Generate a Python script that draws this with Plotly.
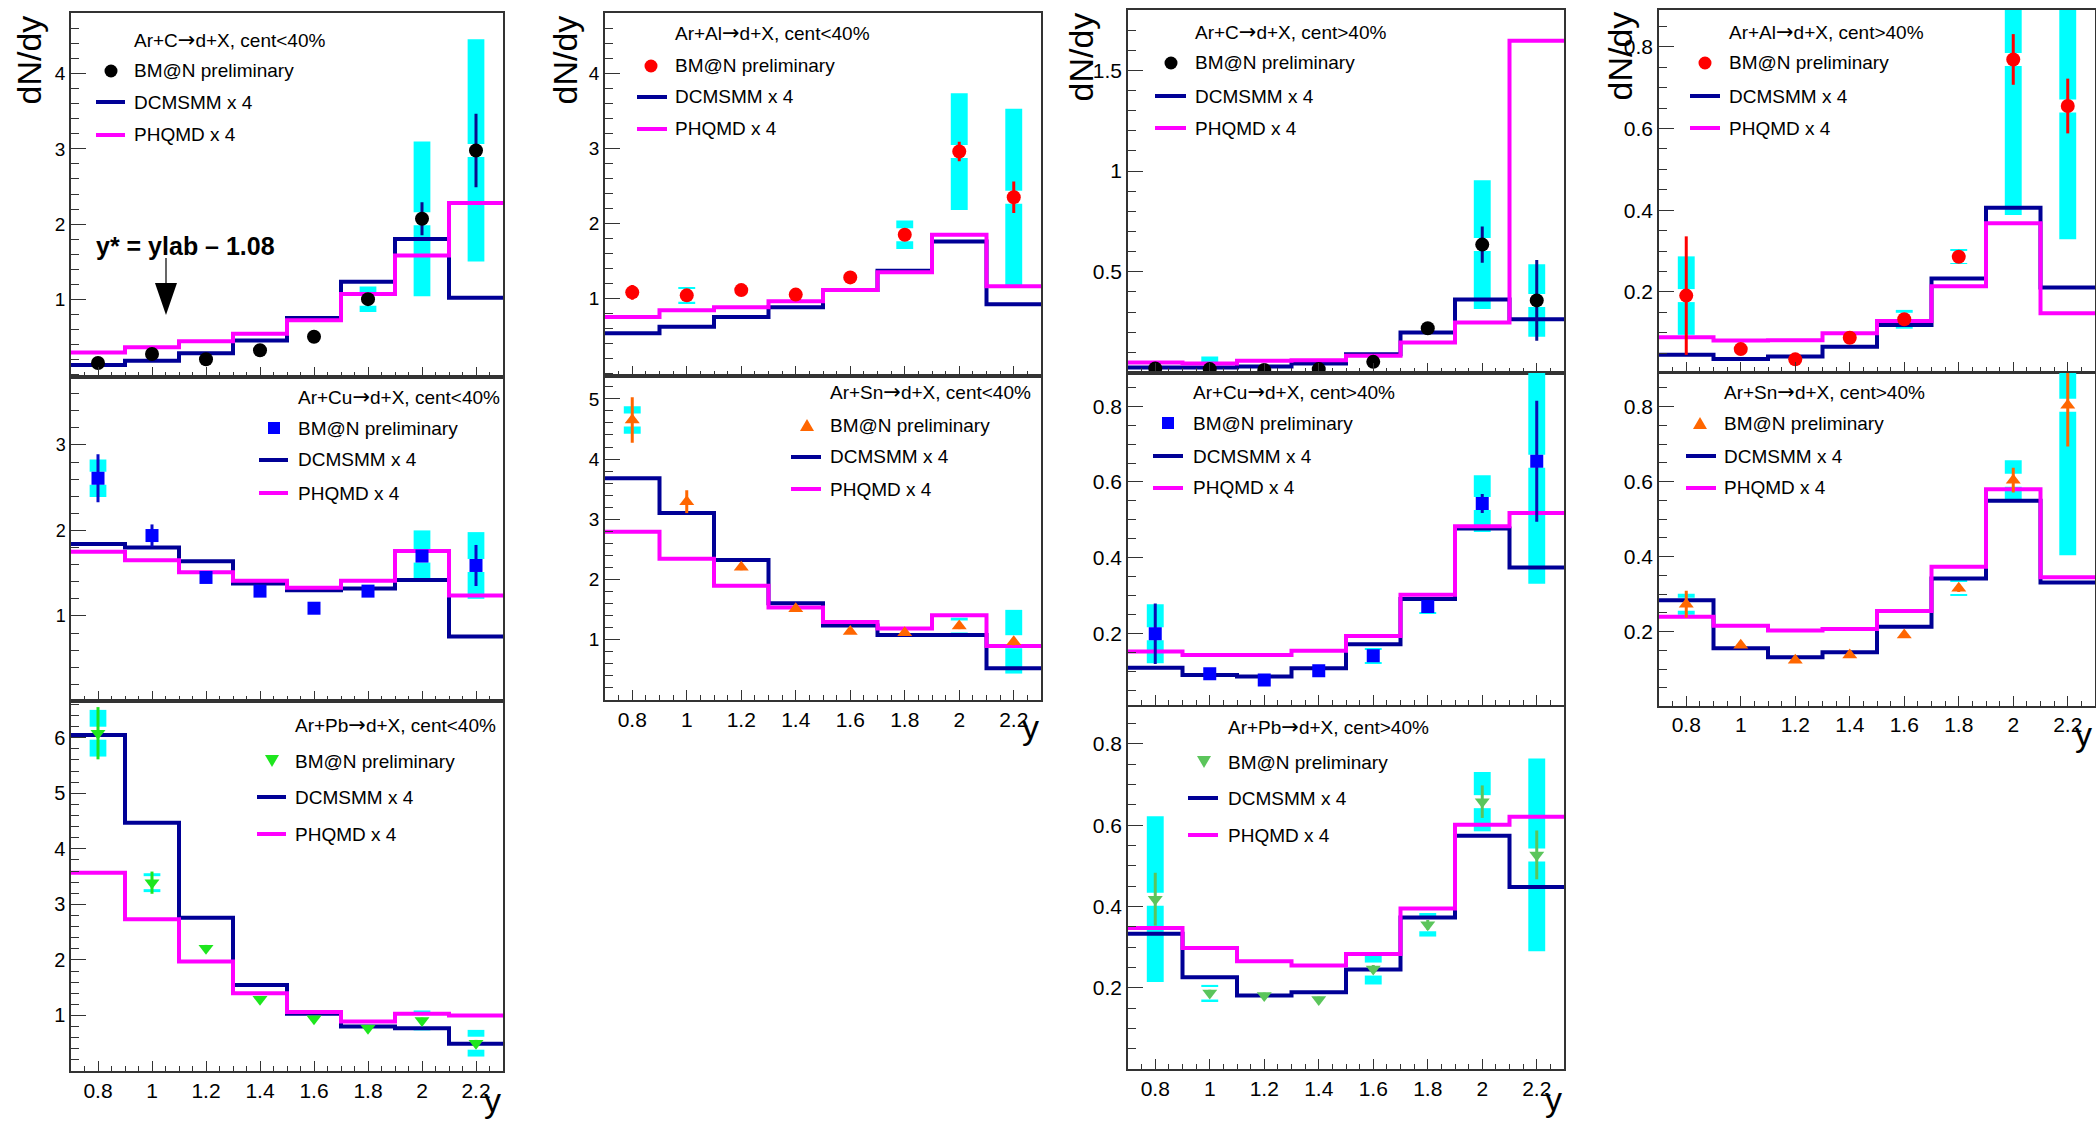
import plotly.graph_objects as go

W, H = 2096, 1121

# ---------------- data ----------------
rapidity = [0.8, 1.0, 1.2, 1.4, 1.6, 1.8, 2.0, 2.2]
x_tick_labels = ["0.8", "1", "1.2", "1.4", "1.6", "1.8", "2", "2.2"]

# Ar+C, cent<40%
arc_lt40_data = [0.15, 0.27, 0.20, 0.32, 0.50, 1.00, 2.07, 2.98]
arc_lt40_stat = [0.02, 0.03, 0.02, 0.03, 0.04, 0.06, 0.22, 0.49]
arc_lt40_sys = [0.02, 0.03, 0.03, 0.04, 0.05, 0.17, 1.03, 1.48]
arc_lt40_dcm = [0.124, 0.18, 0.28, 0.45, 0.75, 1.23, 1.80, 1.02]
arc_lt40_phq = [0.29, 0.36, 0.44, 0.54, 0.72, 1.07, 1.58, 2.28]

# Ar+Al, cent<40%
aral_lt40_data = [1.08, 1.04, 1.11, 1.05, 1.28, 1.85, 2.96, 2.35]
aral_lt40_stat = [0.10, 0.08, 0.06, 0.06, 0.06, 0.06, 0.13, 0.21]
aral_lt40_sys = [0.04, 0.11, 0.04, 0.04, 0.04, 0.19, 0.78, 1.18]
aral_lt40_dcm = [0.533, 0.62, 0.75, 0.88, 1.11, 1.37, 1.76, 0.92]
aral_lt40_phq = [0.75, 0.84, 0.88, 0.96, 1.11, 1.35, 1.85, 1.16]

# Ar+Cu, cent<40%
arcu_lt40_data = [2.61, 1.94, 1.45, 1.29, 1.09, 1.29, 1.70, 1.59]
arcu_lt40_stat = [0.28, 0.13, 0.04, 0.04, 0.03, 0.04, 0.06, 0.24]
arcu_lt40_sys = [0.22, 0.06, 0.07, 0.05, 0.03, 0.06, 0.30, 0.39]
arcu_lt40_dcm = [1.84, 1.80, 1.64, 1.38, 1.30, 1.32, 1.42, 0.76]
arcu_lt40_phq = [1.75, 1.65, 1.51, 1.41, 1.33, 1.41, 1.76, 1.24]

# Ar+Sn, cent<40%
arsn_lt40_data = [4.65, 3.29, 2.20, 1.51, 1.13, 1.11, 1.22, 0.96]
arsn_lt40_stat = [0.38, 0.19, 0.05, 0.05, 0.04, 0.04, 0.05, 0.06]
arsn_lt40_sys = [0.23, 0.10, 0.05, 0.05, 0.07, 0.07, 0.14, 0.53]
arsn_lt40_dcm = [3.68, 3.10, 2.32, 1.60, 1.23, 1.07, 1.07, 0.52]
arsn_lt40_phq = [2.79, 2.34, 1.89, 1.53, 1.29, 1.18, 1.40, 0.89]

# Ar+Pb, cent<40%
arpb_lt40_data = [6.08, 3.39, 2.21, 1.29, 0.94, 0.77, 0.91, 0.50]
arpb_lt40_stat = [0.47, 0.20, 0.06, 0.05, 0.04, 0.04, 0.05, 0.06]
arpb_lt40_sys = [0.42, 0.17, 0.05, 0.05, 0.05, 0.05, 0.18, 0.24]
arpb_lt40_dcm = [6.05, 4.47, 2.76, 1.55, 1.03, 0.80, 0.77, 0.49]
arpb_lt40_phq = [3.57, 2.73, 1.97, 1.40, 1.06, 0.89, 1.03, 1.00]

# Ar+C, cent>40%
arc_gt40_data = [0.020, 0.017, 0.013, 0.017, 0.053, 0.22, 0.635, 0.358]
arc_gt40_stat = [0.005, 0.005, 0.004, 0.005, 0.008, 0.015, 0.09, 0.20]
arc_gt40_sys = [0.005, 0.062, 0.004, 0.005, 0.03, 0.015, 0.32, 0.18]
arc_gt40_dcm = [0.025, 0.025, 0.030, 0.045, 0.090, 0.198, 0.363, 0.264]
arc_gt40_phq = [0.050, 0.045, 0.058, 0.061, 0.083, 0.149, 0.248, 1.647]

# Ar+Al, cent>40%
aral_gt40_data = [0.191, 0.060, 0.035, 0.088, 0.133, 0.286, 0.769, 0.655]
aral_gt40_stat = [0.145, 0.006, 0.005, 0.008, 0.010, 0.012, 0.062, 0.067]
aral_gt40_sys = [0.096, 0.004, 0.004, 0.012, 0.023, 0.017, 0.381, 0.326]
aral_gt40_dcm = [0.046, 0.036, 0.042, 0.066, 0.119, 0.233, 0.406, 0.211]
aral_gt40_phq = [0.089, 0.081, 0.082, 0.099, 0.129, 0.214, 0.368, 0.148]

# Ar+Cu, cent>40%
arcu_gt40_data = [0.199, 0.093, 0.077, 0.101, 0.141, 0.271, 0.543, 0.655]
arcu_gt40_stat = [0.080, 0.008, 0.006, 0.008, 0.010, 0.012, 0.025, 0.160]
arcu_gt40_sys = [0.078, 0.012, 0.012, 0.015, 0.020, 0.018, 0.075, 0.324]
arcu_gt40_dcm = [0.109, 0.090, 0.086, 0.108, 0.171, 0.291, 0.477, 0.374]
arcu_gt40_phq = [0.152, 0.143, 0.143, 0.154, 0.193, 0.302, 0.483, 0.518]

# Ar+Sn, cent>40%
arsn_gt40_data = [0.273, 0.164, 0.124, 0.138, 0.191, 0.316, 0.604, 0.804]
arsn_gt40_stat = [0.036, 0.006, 0.005, 0.005, 0.008, 0.010, 0.033, 0.110]
arsn_gt40_sys = [0.028, 0.005, 0.005, 0.005, 0.015, 0.020, 0.053, 0.400]
arsn_gt40_dcm = [0.284, 0.156, 0.132, 0.145, 0.213, 0.342, 0.549, 0.331]
arsn_gt40_phq = [0.240, 0.216, 0.203, 0.207, 0.255, 0.373, 0.580, 0.345]

# Ar+Pb, cent>40%
arpb_gt40_data = [0.418, 0.187, 0.181, 0.171, 0.246, 0.355, 0.658, 0.527]
arpb_gt40_stat = [0.065, 0.008, 0.007, 0.007, 0.010, 0.012, 0.040, 0.060]
arpb_gt40_sys = [0.204, 0.020, 0.012, 0.014, 0.038, 0.029, 0.073, 0.237]
arpb_gt40_dcm = [0.333, 0.226, 0.181, 0.189, 0.245, 0.373, 0.574, 0.448]
arpb_gt40_phq = [0.347, 0.298, 0.265, 0.255, 0.283, 0.395, 0.601, 0.621]

legend_labels = ["BM@N preliminary", "DCMSMM x 4", "PHQMD x 4"]

yt_int4 = [1, 2, 3, 4]
yt_int3 = [1, 2, 3]
yt_int5 = [1, 2, 3, 4, 5]
yt_int6 = [1, 2, 3, 4, 5, 6]
yt_half = [0.5, 1, 1.5]
yt_fifth = [0.2, 0.4, 0.6, 0.8]

# ---------------- style ----------------
FONT = "Liberation Sans, Arial, Helvetica, sans-serif"
FRAME = "#333333"
CYAN = "#00FFFF"
NAVY = "#000096"
MAGENTA = "#FF00FF"
GAP_PX = 6.5
ARROW = '<span style="font-family:DejaVu Sans;font-size:21px">\u2192</span>'

panels = [
    dict(title=f"Ar+C{ARROW}d+X, cent<40%", d=arc_lt40_data, st=arc_lt40_stat, sy=arc_lt40_sys,
         dcm=arc_lt40_dcm, phq=arc_lt40_phq, sym="circle", col="#000000", ecol="#0A0A8C",
         box=(71, 503, 13, 376.5), yr=(-0.03, 4.81), yt=yt_int4, ymin=0.2, xl=False, tf=19,
         leg=(132, 40, [71, 102, 135], 111, (96, 125))),
    dict(title=f"Ar+Cu{ARROW}d+X, cent<40%", d=arcu_lt40_data, st=arcu_lt40_stat, sy=arcu_lt40_sys,
         dcm=arcu_lt40_dcm, phq=arcu_lt40_phq, sym="square", col="#0000FF", ecol="#0A0AC8",
         box=(71, 503, 376.5, 701), yr=(0.005, 3.80), yt=yt_int3, ymin=0.2, xl=False, tf=18,
         leg=(296, 397, [428, 460, 493], 274, (259, 288))),
    dict(title=f"Ar+Pb{ARROW}d+X, cent<40%", d=arpb_lt40_data, st=arpb_lt40_stat, sy=arpb_lt40_sys,
         dcm=arpb_lt40_dcm, phq=arpb_lt40_phq, sym="triangle-down", col="#1EE61E", ecol="#1EE61E",
         box=(71, 503, 701, 1071), yr=(0.0, 6.66), yt=yt_int6, ymin=0.2, xl=True, tf=20,
         leg=(293, 725, [761, 797, 834], 272, (257, 286))),
    dict(title=f"Ar+Al{ARROW}d+X, cent<40%", d=aral_lt40_data, st=aral_lt40_stat, sy=aral_lt40_sys,
         dcm=aral_lt40_dcm, phq=aral_lt40_phq, sym="circle", col="#FF0000", ecol="#FF0000",
         box=(605, 1041, 13, 375.5), yr=(-0.03, 4.81), yt=yt_int4, ymin=0.2, xl=False, tf=19,
         leg=(673, 33, [66, 97, 129], 651, (637, 667))),
    dict(title=f"Ar+Sn{ARROW}d+X, cent<40%", d=arsn_lt40_data, st=arsn_lt40_stat, sy=arsn_lt40_sys,
         dcm=arsn_lt40_dcm, phq=arsn_lt40_phq, sym="triangle-up", col="#FF6600", ecol="#FF6600",
         box=(605, 1041, 375.5, 700), yr=(-0.01, 5.39), yt=yt_int5, ymin=0.2, xl=True, tf=19,
         leg=(828, 392, [425, 457, 489], 807, (791, 821))),
    dict(title=f"Ar+C{ARROW}d+X, cent>40%", d=arc_gt40_data, st=arc_gt40_stat, sy=arc_gt40_sys,
         dcm=arc_gt40_dcm, phq=arc_gt40_phq, sym="circle", col="#000000", ecol="#0A0A8C",
         box=(1128, 1564, 10, 372.5), yr=(0.0, 1.80), yt=yt_half, ymin=0.1, xl=False, tf=21,
         leg=(1193, 32, [63, 96, 128], 1171, (1155, 1186))),
    dict(title=f"Ar+Cu{ARROW}d+X, cent>40%", d=arcu_gt40_data, st=arcu_gt40_stat, sy=arcu_gt40_sys,
         dcm=arcu_gt40_dcm, phq=arcu_gt40_phq, sym="square", col="#0000FF", ecol="#0A0AB4",
         box=(1128, 1564, 373, 704.5), yr=(0.012, 0.888), yt=yt_fifth, ymin=0.05, xl=False, tf=21,
         leg=(1191, 392, [423, 456, 488], 1168, (1153, 1183))),
    dict(title=f"Ar+Pb{ARROW}d+X, cent>40%", d=arpb_gt40_data, st=arpb_gt40_stat, sy=arpb_gt40_sys,
         dcm=arpb_gt40_dcm, phq=arpb_gt40_phq, sym="triangle-down", col="#5BC55B", ecol="#5BC55B",
         box=(1128, 1564, 707, 1069), yr=(0.0, 0.891), yt=yt_fifth, ymin=0.05, xl=True, tf=21,
         leg=(1226, 727, [762, 798, 835], 1204, (1188, 1218))),
    dict(title=f"Ar+Al{ARROW}d+X, cent>40%", d=aral_gt40_data, st=aral_gt40_stat, sy=aral_gt40_sys,
         dcm=aral_gt40_dcm, phq=aral_gt40_phq, sym="circle", col="#FF0000", ecol="#FF0000",
         box=(1659, 2095, 10, 372), yr=(0.004, 0.89), yt=yt_fifth, ymin=0.05, xl=False, tf=21,
         leg=(1727, 32, [63, 96, 128], 1705, (1690, 1720))),
    dict(title=f"Ar+Sn{ARROW}d+X, cent>40%", d=arsn_gt40_data, st=arsn_gt40_stat, sy=arsn_gt40_sys,
         dcm=arsn_gt40_dcm, phq=arsn_gt40_phq, sym="triangle-up", col="#FF6600", ecol="#FF6600",
         box=(1659, 2095, 373, 705.5), yr=(0.003, 0.89), yt=yt_fifth, ymin=0.05, xl=True, tf=21,
         leg=(1722, 392, [423, 456, 488], 1700, (1686, 1716))),
]


def fx(px):
    return px / W


def fy(py):
    return 1 - py / H


edges = [c - 0.1 for c in rapidity] + [rapidity[-1] + 0.1]

fig = go.Figure()
layout = dict(width=W, height=H, margin=dict(l=0, r=0, t=0, b=0),
              paper_bgcolor="white", plot_bgcolor="white", showlegend=False,
              barmode="overlay", font=dict(family=FONT, color="black"))
shapes = []
annotations = []

for i, p in enumerate(panels, start=1):
    xa = "x" if i == 1 else f"x{i}"
    ya = "y" if i == 1 else f"y{i}"
    x0, x1, y0, y1 = p["box"]
    yr = p["yr"]
    gap = GAP_PX * (yr[1] - yr[0]) / (y1 - y0)

    # systematic boxes (with ROOT-like gap around the marker)
    h = [max(0.0, s - gap) for s in p["sy"]]
    lo_base = [d - s for d, s in zip(p["d"], p["sy"])]
    hi_base = [d + gap for d in p["d"]]
    for base in (lo_base, hi_base):
        fig.add_trace(go.Bar(x=rapidity, y=h, base=base, width=0.062,
                             marker=dict(color=CYAN, line=dict(width=0)),
                             xaxis=xa, yaxis=ya, hoverinfo="skip"))

    # model histograms
    for vals, colr in ((p["dcm"], NAVY), (p["phq"], MAGENTA)):
        fig.add_trace(go.Scatter(x=edges, y=list(vals) + [vals[-1]], mode="lines",
                                 line=dict(color=colr, width=4, shape="hv"),
                                 xaxis=xa, yaxis=ya, hoverinfo="skip"))

    # data
    msize = 14 if p["sym"] == "circle" else 13
    fig.add_trace(go.Scatter(x=rapidity, y=p["d"], mode="markers",
                             marker=dict(symbol=p["sym"], size=msize, color=p["col"],
                                         line=dict(width=0)),
                             error_y=dict(type="data", array=p["st"], visible=True,
                                          thickness=3, width=0, color=p["ecol"]),
                             xaxis=xa, yaxis=ya))

    xkey = "xaxis" if i == 1 else f"xaxis{i}"
    ykey = "yaxis" if i == 1 else f"yaxis{i}"
    layout[xkey] = dict(domain=[fx(x0), fx(x1)], range=[0.7, 2.3], anchor=ya,
                        showgrid=False, zeroline=False, showline=True, mirror=True,
                        linecolor=FRAME, linewidth=1.5, ticks="inside", ticklen=10,
                        tickwidth=1.2, tickcolor=FRAME, tickmode="array",
                        tickvals=rapidity, ticktext=x_tick_labels,
                        showticklabels=p["xl"], tickfont=dict(size=21, family=FONT),
                        minor=dict(ticks="inside", ticklen=5, tickmode="linear",
                                   tick0=0.7, dtick=0.05, tickwidth=1.2,
                                   tickcolor=FRAME, showgrid=False),
                        fixedrange=True)
    layout[ykey] = dict(domain=[fy(y1), fy(y0)], range=list(yr), anchor=xa,
                        showgrid=False, zeroline=False, showline=True, mirror=True,
                        linecolor=FRAME, linewidth=1.5, ticks="inside", ticklen=15,
                        tickwidth=1.2, tickcolor=FRAME, tickmode="array",
                        tickvals=p["yt"], ticktext=[f"{v:g}" for v in p["yt"]],
                        tickfont=dict(size=p["tf"], family=FONT),
                        minor=dict(ticks="inside", ticklen=8, tickmode="linear",
                                   tick0=0, dtick=p["ymin"], tickwidth=1.2,
                                   tickcolor=FRAME, showgrid=False),
                        fixedrange=True)

    # legend block (manual, ROOT TLegend style)
    tx, ty, eys, mx, (lx0, lx1) = p["leg"]
    annotations.append(dict(xref="paper", yref="paper", x=fx(tx), y=fy(ty),
                            xanchor="left", yanchor="middle", showarrow=False,
                            text=p["title"], font=dict(size=19, family=FONT)))
    for lab, ey in zip(legend_labels, eys):
        annotations.append(dict(xref="paper", yref="paper", x=fx(tx), y=fy(ey),
                                xanchor="left", yanchor="middle", showarrow=False,
                                text=lab, font=dict(size=19, family=FONT)))
    my = eys[0]
    r = 6.5
    if p["sym"] == "circle":
        shapes.append(dict(type="circle", xref="paper", yref="paper",
                           x0=fx(mx - r), x1=fx(mx + r), y0=fy(my + r), y1=fy(my - r),
                           fillcolor=p["col"], line=dict(width=0)))
    elif p["sym"] == "square":
        shapes.append(dict(type="rect", xref="paper", yref="paper",
                           x0=fx(mx - 6), x1=fx(mx + 6), y0=fy(my + 6), y1=fy(my - 6),
                           fillcolor=p["col"], line=dict(width=0)))
    else:
        if p["sym"] == "triangle-up":
            pts = [(mx - 7, my + 6), (mx + 7, my + 6), (mx, my - 6)]
        else:
            pts = [(mx - 7, my - 6), (mx + 7, my - 6), (mx, my + 6)]
        path = "M " + " L ".join(f"{fx(a):.6f},{fy(b):.6f}" for a, b in pts) + " Z"
        shapes.append(dict(type="path", xref="paper", yref="paper", path=path,
                           fillcolor=p["col"], line=dict(width=0)))
    for ey, colr in ((eys[1], NAVY), (eys[2], MAGENTA)):
        shapes.append(dict(type="line", xref="paper", yref="paper",
                           x0=fx(lx0), x1=fx(lx1), y0=fy(ey), y1=fy(ey),
                           line=dict(color=colr, width=4)))

# axis titles
for cx, top in ((29, 14), (565, 14), (1081, 11), (1619, 10)):
    annotations.append(dict(xref="paper", yref="paper", x=fx(cx), y=fy(top),
                            xanchor="center", yanchor="top", textangle=-90,
                            showarrow=False, text="dN/dy",
                            font=dict(size=34, family=FONT)))
for rx, cy in ((503, 1100), (1041, 727), (1564, 1099), (2094, 734)):
    annotations.append(dict(xref="paper", yref="paper", x=fx(rx), y=fy(cy),
                            xanchor="right", yanchor="middle", showarrow=False,
                            text="y", font=dict(size=34, family=FONT)))

# y* annotation with arrow in the first panel
annotations.append(dict(xref="paper", yref="paper", x=fx(94), y=fy(246),
                        xanchor="left", yanchor="middle", showarrow=False,
                        text="<b>y* = ylab \u2013 1.08</b>",
                        font=dict(size=25, family=FONT)))
shapes.append(dict(type="line", xref="paper", yref="paper",
                   x0=fx(166), x1=fx(166), y0=fy(258), y1=fy(284),
                   line=dict(color="black", width=1.2)))
shapes.append(dict(type="path", xref="paper", yref="paper",
                   path=f"M {fx(155):.6f},{fy(283):.6f} L {fx(177):.6f},{fy(283):.6f} "
                        f"L {fx(166):.6f},{fy(315):.6f} Z",
                   fillcolor="black", line=dict(width=0)))

layout["shapes"] = shapes
layout["annotations"] = annotations
fig.update_layout(**layout)
fig.write_html("out.html", config={"displayModeBar": False},
               post_script="document.body.style.margin='0';document.body.style.overflow='hidden';")
